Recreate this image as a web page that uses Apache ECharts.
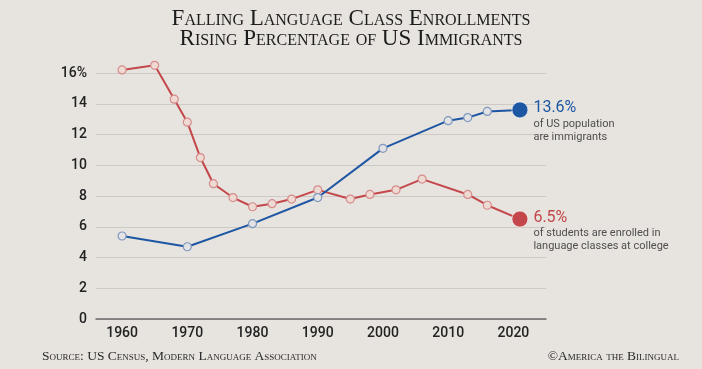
<!DOCTYPE html>
<html>
<head>
<meta charset="utf-8">
<script src="https://cdn.jsdelivr.net/npm/echarts@6/dist/echarts.min.js"></script>
<style>
html,body{margin:0;padding:0;background:#e7e3de;}
#c{width:702px;height:369px;}
</style>
</head>
<body>
<div id="c"></div>
<script>
const titleLines = ['Falling Language Class Enrollments', 'Rising Percentage of US Immigrants'];
const sourceText = 'Source: US Census, Modern Language Association';
const creditText = '\u00A9America the Bilingual';

const xTickLabels = [1960, 1970, 1980, 1990, 2000, 2010, 2020];
const yTicks = [0, 2, 4, 6, 8, 10, 12, 14, 16];

const immigrantYears = [1960, 1970, 1980, 1990, 2000, 2010, 2013, 2016, 2021];
const immigrantValues = [5.4, 4.7, 6.2, 7.9, 11.1, 12.9, 13.1, 13.5, 13.6];

const enrollYears = [1960, 1965, 1968, 1970, 1972, 1974, 1977, 1980, 1983, 1986, 1990, 1995, 1998, 2002, 2006, 2013, 2016, 2021];
const enrollValues = [16.2, 16.5, 14.3, 12.8, 10.5, 8.8, 7.9, 7.3, 7.5, 7.8, 8.4, 7.8, 8.1, 8.4, 9.1, 8.1, 7.4, 6.5];

const immigrantNote = ['13.6%', 'of US population', 'are immigrants'];
const enrollNote = ['6.5%', 'of students are enrolled in', 'language classes at college'];

const BLUE = '#1d56a3';
const RED = '#c3474b';

function buildData(years, values, color, note) {
  return years.map((y, i) => {
    const last = i === years.length - 1;
    if (!last) return [y, values[i]];
    return {
      value: [y, values[i]],
      symbolSize: 16,
      itemStyle: { color: color, borderColor: 'rgba(255,255,255,0.6)', borderWidth: 1 },
      label: {
        show: true,
        position: [22, -2],
        align: 'left',
        verticalAlign: 'top',
        formatter: '{a|' + note[0] + '}\n{b|' + note[1] + '}\n{b|' + note[2] + '}',
        rich: {
          a: { fontFamily: 'Roboto', fontSize: 16, color: color, lineHeight: 18 },
          b: { fontFamily: 'Roboto', fontSize: 11, color: '#4f4f4f', lineHeight: 13 }
        }
      }
    };
  });
}

const titleStyle = { fontFamily: 'Liberation Serif', fontStyle: 'small-caps', fontWeight: 'normal', fontSize: 23, lineHeight: 22, color: '#1c1c1c' };
const footStyle = { fontFamily: 'Liberation Serif', fontStyle: 'small-caps', fontWeight: 'normal', fontSize: 13.5, lineHeight: 14, color: '#2a2a2a' };

const chart = echarts.init(document.getElementById('c'), null, { renderer: 'canvas' });
chart.setOption({
  backgroundColor: '#e7e3de',
  animation: false,
  title: [
    { text: titleLines[0], left: 'center', top: 8, padding: 0, textStyle: titleStyle },
    { text: titleLines[1], left: 'center', top: 28, padding: 0, textStyle: titleStyle },
    { text: sourceText, left: 42, top: 349, padding: 0, textStyle: footStyle },
    { text: creditText, right: 23, top: 349, padding: 0, textStyle: footStyle }
  ],
  grid: { left: 96, right: 156, top: 73, bottom: 50, containLabel: false },
  xAxis: {
    type: 'value',
    min: 1956,
    max: 2025,
    splitLine: { show: false },
    axisLine: { show: true, lineStyle: { color: '#6a6a6a', width: 1.5 } },
    axisTick: { show: false },
    axisLabel: {
      customValues: xTickLabels,
      margin: 7,
      fontFamily: 'Roboto',
      fontWeight: 500,
      fontSize: 14,
      color: '#222',
      formatter: v => String(v)
    }
  },
  yAxis: {
    type: 'value',
    min: 0,
    max: 16,
    interval: 2,
    axisLine: { show: false },
    axisTick: { show: false },
    splitLine: { lineStyle: { color: '#cdc9c4', width: 1 } },
    axisLabel: {
      margin: 9,
      fontFamily: 'Roboto',
      fontWeight: 500,
      fontSize: 14,
      color: '#222',
      formatter: v => (v === yTicks[yTicks.length - 1] ? v + '%' : String(v))
    }
  },
  series: [
    {
      type: 'line',
      name: 'Immigrants',
      clip: false,
      data: buildData(immigrantYears, immigrantValues, BLUE, immigrantNote),
      symbol: 'circle',
      symbolSize: 8,
      lineStyle: { color: BLUE, width: 2 },
      itemStyle: { color: '#e3e2e4', borderColor: '#7f98bf', borderWidth: 1.2 },
      z: 3
    },
    {
      type: 'line',
      name: 'Enrollment',
      clip: false,
      data: buildData(enrollYears, enrollValues, RED, enrollNote),
      symbol: 'circle',
      symbolSize: 8,
      lineStyle: { color: RED, width: 2 },
      itemStyle: { color: '#efdad3', borderColor: '#d58c8c', borderWidth: 1.2 },
      z: 2
    }
  ]
});
</script>
</body>
</html>
